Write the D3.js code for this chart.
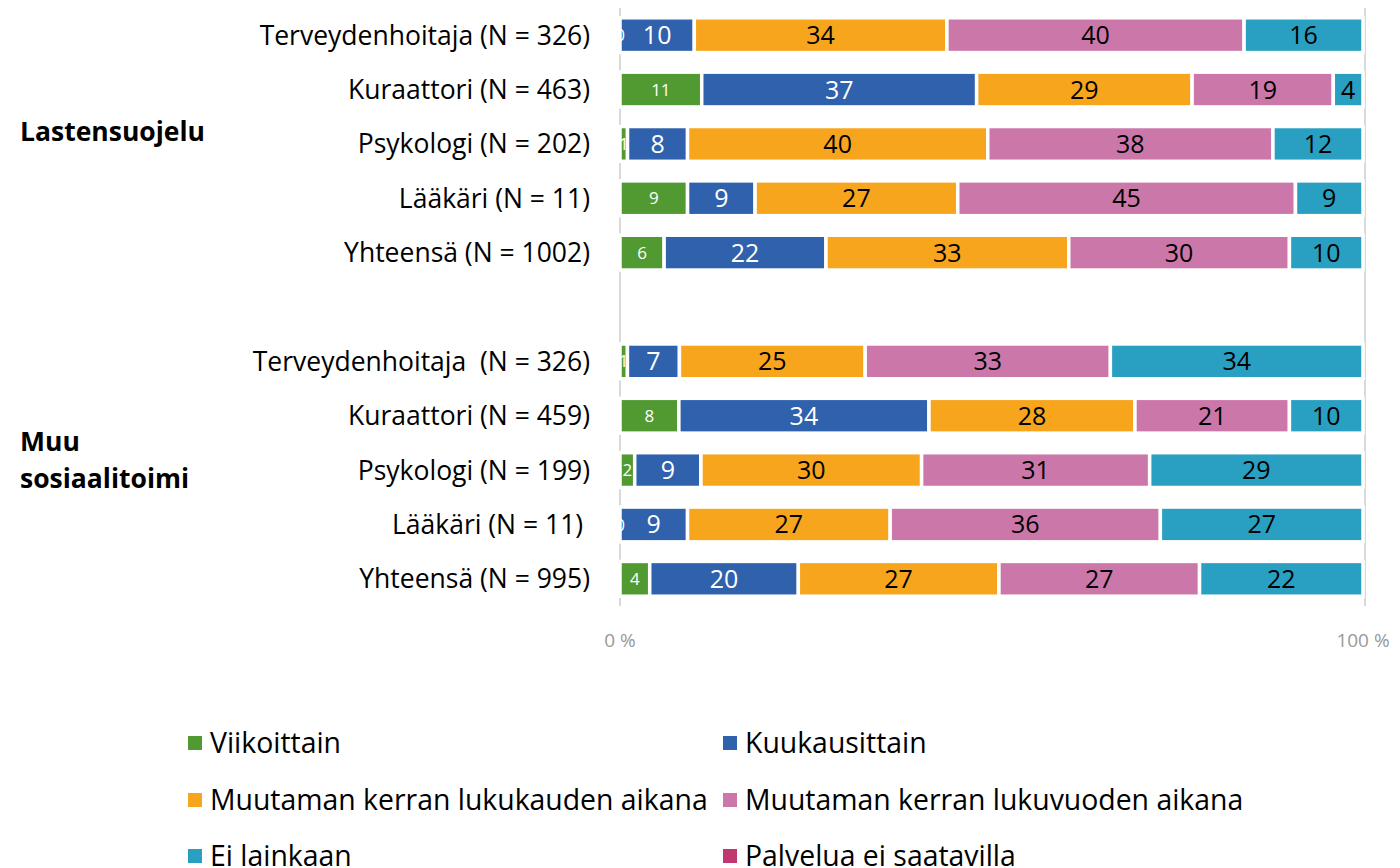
<!DOCTYPE html>
<html>
<head>
<meta charset="utf-8">
<script src="https://cdn.jsdelivr.net/npm/d3@7"></script>
<style>
  body { margin: 0; background: #fff; }
  svg { font-family: "Open Sans", "Noto Sans", sans-serif; }
</style>
</head>
<body>
<svg id="chart" width="1400" height="868"></svg>
<script>
// categories (rows), "gap" is the empty row between the two groups
const categories = [
    "Terveydenhoitaja (N = 326)", "Kuraattori (N = 463)", "Psykologi (N = 202)", "Lääkäri (N = 11)", "Yhteensä (N = 1002)",
    "gap",
    "Terveydenhoitaja  (N = 326)", "Kuraattori (N = 459)", "Psykologi (N = 199)", "Lääkäri (N = 11) ", "Yhteensä (N = 995)"
];
const seriesNames = ["Viikoittain", "Kuukausittain", "Muutaman kerran lukukauden aikana",
    "Muutaman kerran lukuvuoden aikana", "Ei lainkaan", "Palvelua ei saatavilla"];
const seriesColors = ["#519a32", "#2f61ad", "#f7a51c", "#cc77aa", "#29a0c1", "#c0386f"];

// one array per series, same order as categories (null for the gap row)
const viikoittain   = [0, 11, 1, 9, 6, null, 1, 8, 2, 0, 4];
const kuukausittain = [10, 37, 8, 9, 22, null, 7, 34, 9, 9, 20];
const lukukausi     = [34, 29, 40, 27, 33, null, 25, 28, 30, 27, 27];
const lukuvuosi     = [40, 19, 38, 45, 30, null, 33, 21, 31, 36, 27];
const eiLainkaan    = [16, 4, 12, 9, 10, null, 34, 10, 29, 27, 22];
const eiSaatavilla  = [0, 0, 0, 0, 0, null, 0, 0, 0, 0, 0];

const groupLabels = [["Lastensuojelu"], ["Muu", "sosiaalitoimi"]];
const axisTicks = [0, 100];

const allSeries = [viikoittain, kuukausittain, lukukausi, lukuvuosi, eiLainkaan, eiSaatavilla];

const svg = d3.select("#chart");

const x = d3.scaleLinear().domain([0, 100]).range([620, 1363]);
const y = d3.scaleBand().domain(categories).range([8, 606]).paddingInner(0.36).paddingOuter(0.18);

//gridlines / axis line
svg.append("g").selectAll("line")
    .data(axisTicks)
    .join("line")
    .attr("x1", d => x(d) + (d === 100 ? 2 : 0))
    .attr("x2", d => x(d) + (d === 100 ? 2 : 0))
    .attr("y1", 8)
    .attr("y2", 606)
    .attr("stroke", "#d9d9d9")
    .attr("stroke-width", 2);

//build stacked segments (normalised to 100 %)
const segments = [];
categories.forEach((cat, i) => {
    if (cat === "gap") return;
    const total = d3.sum(allSeries, s => s[i]);
    let cum = 0;
    allSeries.forEach((s, k) => {
        const v = s[i];
        segments.push({ cat, k, value: v, x0: cum / total * 100, x1: (cum + v) / total * 100 });
        cum += v;
    });
});

const barG = svg.append("g");
barG.selectAll("rect")
    .data(segments.filter(d => d.value > 0))
    .join("rect")
    .attr("x", d => x(d.x0))
    .attr("y", d => y(d.cat))
    .attr("width", d => x(d.x1) - x(d.x0))
    .attr("height", y.bandwidth())
    .attr("fill", d => seriesColors[d.k])
    .attr("stroke", "#fff")
    .attr("stroke-width", 3.5);

//value labels
barG.selectAll("text")
    .data(segments.filter(d => d.k < 5))
    .join("text")
    .attr("x", d => (x(d.x0) + x(d.x1)) / 2)
    .attr("y", d => y(d.cat) + y.bandwidth() / 2)
    .attr("dy", "0.36em")
    .attr("text-anchor", "middle")
    .attr("font-size", d => d.k === 0 ? 17 : 25)
    .attr("fill", d => d.k < 2 ? "#fff" : "#000")
    .text(d => d.value);

//category labels
svg.append("g").selectAll("text")
    .data(categories.filter(c => c !== "gap"))
    .join("text")
    .attr("x", 590)
    .attr("y", d => y(d) + y.bandwidth() / 2)
    .attr("dy", "0.36em")
    .attr("text-anchor", "end")
    .attr("font-size", 26.5)
    .attr("fill", "#000")
    .style("white-space", "pre")
    .text(d => d);

//group labels
const groupY = [141, 451];
groupLabels.forEach((lines, g) => {
    const t = svg.append("text")
        .attr("x", 20)
        .attr("y", groupY[g])
        .attr("font-size", 26.5)
        .attr("font-weight", "bold")
        .attr("fill", "#000");
    lines.forEach((l, j) => {
        t.append("tspan").attr("x", 20).attr("dy", j === 0 ? 0 : 37).text(l);
    });
});

//x axis tick labels
svg.append("g").selectAll("text")
    .data(axisTicks)
    .join("text")
    .attr("x", d => x(d))
    .attr("y", 647)
    .attr("text-anchor", "middle")
    .attr("font-size", 19)
    .attr("fill", "#999")
    .text(d => d + " %");

//legend
const legendX = [192, 727];
const legendY = [743, 800, 856];
const legend = svg.append("g").selectAll("g")
    .data(seriesNames)
    .join("g")
    .attr("transform", (d, i) => "translate(" + legendX[i % 2] + "," + legendY[Math.floor(i / 2)] + ")");
legend.append("rect")
    .attr("x", -4)
    .attr("y", -7)
    .attr("width", 14)
    .attr("height", 14)
    .attr("fill", (d, i) => seriesColors[i]);
legend.append("text")
    .attr("x", 18)
    .attr("dy", "0.36em")
    .attr("font-size", 28.4)
    .attr("fill", "#000")
    .text(d => d);
</script>
</body>
</html>
